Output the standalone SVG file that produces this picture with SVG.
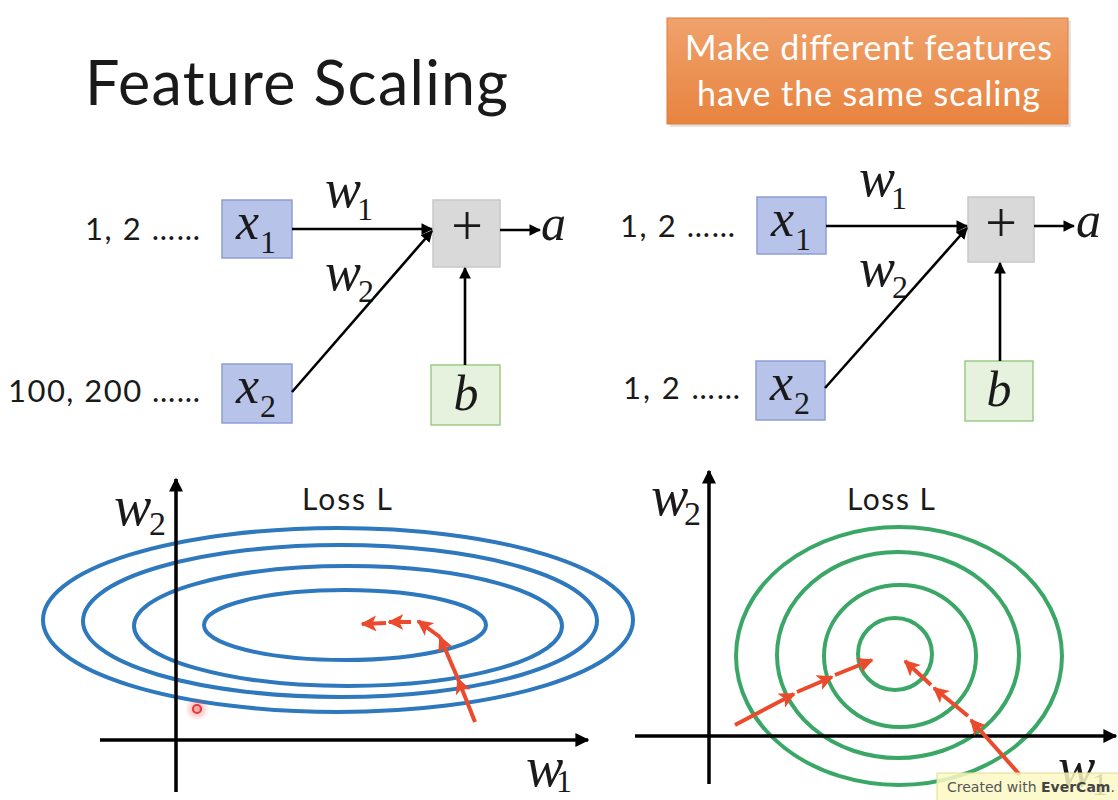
<svg xmlns="http://www.w3.org/2000/svg" width="1118" height="800" viewBox="0 0 1118 800">
<defs>
<style>
.sans{font-family:Lato,"Open Sans","Liberation Sans",sans-serif;fill:#1a1a1a}
.m{font-family:"Liberation Serif","DejaVu Serif",serif;font-style:italic;fill:#1a1a1a}
.sub{font-family:"Liberation Serif","DejaVu Serif",serif;fill:#1a1a1a}
.xbox{fill:#B8C3EA;stroke:#8C9ED6;stroke-width:1.5}
.pbox{fill:#D9D9D9;stroke:#C8C8C8;stroke-width:1.5}
.bbox{fill:#E6F2DE;stroke:#9CCB86;stroke-width:1.5}
.ln{stroke:#000;stroke-width:2.6;fill:none;marker-end:url(#ah)}
.ax{stroke:#000;stroke-width:3.5;fill:none}
.blue{fill:none;stroke:#2E78BD;stroke-width:4}
.green{fill:none;stroke:#3AA766;stroke-width:4}
.red{stroke:#EC4A2C;stroke-width:4;fill:none;marker-end:url(#rh)}
</style>
<marker id="ah" viewBox="0 0 10 10" refX="9" refY="5" markerWidth="4.5" markerHeight="4.5" orient="auto" markerUnits="strokeWidth"><path d="M0,0 L10,5 L0,10 Z" fill="#000"/></marker>
<marker id="axh" viewBox="0 0 10 10" refX="9" refY="5" markerWidth="4" markerHeight="4" orient="auto" markerUnits="strokeWidth"><path d="M0,0 L10,5 L0,10 Z" fill="#000"/></marker>
<marker id="rh" viewBox="0 0 10 10" refX="9" refY="5" markerWidth="4" markerHeight="4" orient="auto" markerUnits="strokeWidth"><path d="M0,0 L10,5 L0,10 L2.5,5 Z" fill="#EC4A2C"/></marker>
<linearGradient id="og" x1="0" y1="0" x2="0" y2="1"><stop offset="0" stop-color="#F0A26C"/><stop offset="1" stop-color="#E8833F"/></linearGradient>
<radialGradient id="glow"><stop offset="0" stop-color="#F04040" stop-opacity="0.5"/><stop offset="1" stop-color="#F04040" stop-opacity="0"/></radialGradient>
</defs>
<rect width="1118" height="800" fill="#fff"/>

<g id="title"><text class="sans" x="85" y="105" font-size="61" textLength="423" lengthAdjust="spacing">Feature Scaling</text></g>

<g id="note">
<rect x="670" y="21" width="401" height="106" fill="#d0d0d0" opacity="0.6"/>
<rect x="667" y="18" width="401" height="106" fill="url(#og)" stroke="#E27C38" stroke-width="1"/>
<text class="sans" x="685" y="60" font-size="34" textLength="367" lengthAdjust="spacing" style="fill:#fff">Make different features</text>
<text class="sans" x="697" y="106" font-size="34" textLength="343" lengthAdjust="spacing" style="fill:#fff">have the same scaling</text>
</g>

<!-- top-left network -->
<g id="tl-in1"><text class="sans" x="85" y="240" font-size="31" textLength="115" lengthAdjust="spacing">1, 2 ……</text></g>
<g id="tl-in2"><text class="sans" x="8" y="402" font-size="31" textLength="192" lengthAdjust="spacing">100, 200 ……</text></g>
<g id="tl-x1"><rect class="xbox" x="222" y="200" width="70" height="58"/><text class="m" x="236" y="239" font-size="52">x</text><text class="sub" x="260" y="253" font-size="32">1</text></g>
<g id="tl-x2"><rect class="xbox" x="222" y="364" width="70" height="59"/><text class="m" x="236" y="403" font-size="52">x</text><text class="sub" x="260" y="417" font-size="32">2</text></g>
<g id="tl-plus"><rect class="pbox" x="433" y="200" width="67" height="67"/><text class="sub" x="467" y="245" font-size="56" text-anchor="middle">+</text></g>
<g id="tl-b"><rect class="bbox" x="431" y="365" width="69" height="60"/><text class="m" x="466" y="410" font-size="50" text-anchor="middle">b</text></g>
<g id="tl-a"><text class="m" x="541" y="240" font-size="50">a</text></g>
<g id="tl-w1"><text class="m" x="325" y="207" font-size="54">w</text><text class="sub" x="357" y="220" font-size="32">1</text></g>
<g id="tl-w2"><text class="m" x="325" y="290" font-size="54">w</text><text class="sub" x="358" y="302" font-size="32">2</text></g>

<!-- top-right network -->
<g id="tr-in1"><text class="sans" x="620" y="237" font-size="31" textLength="115" lengthAdjust="spacing">1, 2 ……</text></g>
<g id="tr-in2"><text class="sans" x="623" y="399" font-size="31" textLength="117" lengthAdjust="spacing">1, 2 ……</text></g>
<g id="tr-x1"><rect class="xbox" x="757" y="197" width="69" height="57"/><text class="m" x="771" y="236" font-size="52">x</text><text class="sub" x="795" y="250" font-size="32">1</text></g>
<g id="tr-x2"><rect class="xbox" x="756" y="361" width="69" height="59"/><text class="m" x="770" y="400" font-size="52">x</text><text class="sub" x="794" y="414" font-size="32">2</text></g>
<g id="tr-plus"><rect class="pbox" x="968" y="197" width="66" height="65"/><text class="sub" x="1001" y="242" font-size="56" text-anchor="middle">+</text></g>
<g id="tr-b"><rect class="bbox" x="965" y="361" width="68" height="60"/><text class="m" x="999" y="406" font-size="50" text-anchor="middle">b</text></g>
<g id="tr-a"><text class="m" x="1076" y="237" font-size="50">a</text></g>
<g id="tr-w1"><text class="m" x="859" y="196" font-size="54">w</text><text class="sub" x="891" y="209" font-size="32">1</text></g>
<g id="tr-w2"><text class="m" x="859" y="286" font-size="54">w</text><text class="sub" x="892" y="298" font-size="32">2</text></g>

<g id="connectors">
<line class="ln" x1="292" y1="229" x2="432" y2="229"/>
<line class="ln" x1="292" y1="392" x2="432" y2="231"/>
<line class="ln" x1="465" y1="365" x2="465" y2="268"/>
<line class="ln" x1="500" y1="230" x2="540" y2="230"/>
<line class="ln" x1="826" y1="226" x2="967" y2="226"/>
<line class="ln" x1="825" y1="388" x2="967" y2="228"/>
<line class="ln" x1="1000" y1="361" x2="1000" y2="263"/>
<line class="ln" x1="1034" y1="226" x2="1074" y2="226"/>
</g>

<!-- bottom-left contour plot -->
<g id="plot-left">
<ellipse class="blue" cx="338" cy="620" rx="295" ry="92"/>
<ellipse class="blue" cx="340" cy="621" rx="257" ry="76"/>
<ellipse class="blue" cx="348" cy="626" rx="214" ry="60"/>
<ellipse class="blue" cx="345" cy="625" rx="141" ry="35"/>
<line class="ax" x1="176" y1="792" x2="176" y2="479" marker-end="url(#axh)"/>
<line class="ax" x1="100" y1="740" x2="588" y2="740" marker-end="url(#axh)"/>
<text class="m" x="114" y="525" font-size="56">w</text><text class="sub" x="149" y="535" font-size="34">2</text>
<text class="m" x="526" y="786" font-size="56">w</text><text class="sub" x="556" y="792" font-size="32">1</text>
<text class="sans" x="302" y="510" font-size="30" textLength="90" lengthAdjust="spacing">Loss L</text>
<circle cx="197" cy="709" r="12" fill="url(#glow)"/>
<circle cx="197" cy="709" r="4" fill="none" stroke="#E83A3A" stroke-width="2.2"/>
<line class="red" x1="475" y1="722" x2="458" y2="679"/>
<line class="red" x1="458" y1="679" x2="440" y2="637"/>
<line class="red" x1="440" y1="637" x2="418" y2="621"/>
<line class="red" x1="411" y1="622" x2="389" y2="622"/>
<line class="red" x1="386" y1="623" x2="362" y2="624"/>
</g>

<!-- bottom-right contour plot -->
<g id="plot-right">
<ellipse class="green" cx="899" cy="656" rx="163" ry="129"/>
<ellipse class="green" cx="898" cy="655" rx="121" ry="103"/>
<ellipse class="green" cx="900" cy="656" rx="76" ry="71"/>
<ellipse class="green" cx="895" cy="654" rx="37" ry="36"/>
<line class="ax" x1="709" y1="784" x2="709" y2="471" marker-end="url(#axh)"/>
<line class="ax" x1="635" y1="736" x2="1116" y2="736" marker-end="url(#axh)"/>
<text class="m" x="651" y="515" font-size="56">w</text><text class="sub" x="684" y="525" font-size="34">2</text>
<text class="sans" x="847" y="510" font-size="30" textLength="88" lengthAdjust="spacing">Loss L</text>
<line class="red" x1="735" y1="725" x2="794" y2="694"/>
<line class="red" x1="797" y1="692" x2="832" y2="677"/>
<line class="red" x1="835" y1="675" x2="872" y2="660"/>
<line class="red" x1="1020" y1="775" x2="971" y2="720"/>
<line class="red" x1="968" y1="716" x2="934" y2="688"/>
<line class="red" x1="931" y1="685" x2="905" y2="661"/>
<text class="m" x="1058" y="786" font-size="56">w</text><text class="sub" x="1092" y="795" font-size="32">1</text>
</g>

<g id="watermark">
<rect x="937" y="773" width="185" height="30" fill="#FBF8C4" fill-opacity="0.85" stroke="#E2DC98" stroke-width="1"/>
<text x="947" y="792" font-size="14" font-family="'DejaVu Sans','Liberation Sans',sans-serif" fill="#555">Created with <tspan font-weight="bold" fill="#444">EverCam</tspan>.</text>
</g>
</svg>
